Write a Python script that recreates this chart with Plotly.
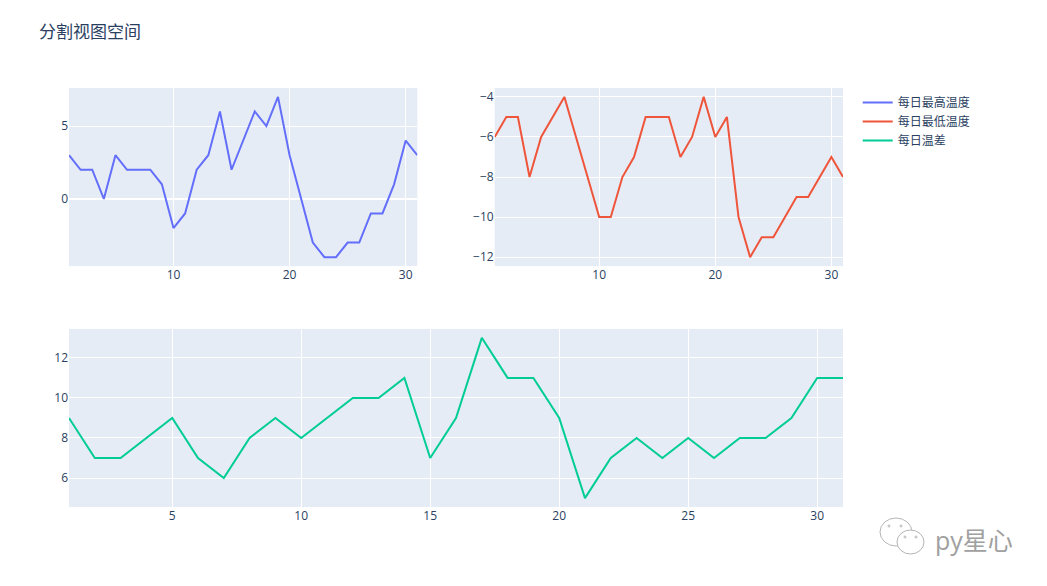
"""
Split-view line chart of daily temperatures
"""

import plotly.graph_objects as go
from plotly.subplots import make_subplots

# Day of the month
days = list(range(1, 32))

# Daily readings
high_temp = [3, 2, 2, 0, 3, 2, 2, 2, 1, -2, -1, 2, 3, 6, 2, 4, 6, 5, 7, 3, 0, -3, -4, -4, -3, -3, -1, -1, 1, 4, 3]
low_temp = [-6, -5, -5, -8, -6, -5, -4, -6, -8, -10, -10, -8, -7, -5, -5, -5, -7, -6, -4, -6, -5, -10, -12, -11, -11, -10, -9, -9, -8, -7, -8]
temp_diff = [9, 7, 7, 8, 9, 7, 6, 8, 9, 8, 9, 10, 10, 11, 7, 9, 13, 11, 11, 9, 5, 7, 8, 7, 8, 7, 8, 8, 9, 11, 11]

FONT = '"Open Sans", "Noto Sans CJK SC", sans-serif'

# The page body has an 8px margin, so the figure is 16px smaller than the window
PAGE_MARGIN = 8
WIDTH, HEIGHT = 1047 - 2 * PAGE_MARGIN, 586 - 2 * PAGE_MARGIN
LEFT, RIGHT, TOP, BOTTOM = 61, 196, 80, 71

fig = make_subplots(
    rows=2,
    cols=2,
    specs=[[{}, {}], [{"colspan": 2}, None]],
)

fig.add_trace(go.Scatter(x=days, y=high_temp, name="每日最高温度", mode="lines"), row=1, col=1)
fig.add_trace(go.Scatter(x=days, y=low_temp, name="每日最低温度", mode="lines"), row=1, col=2)
fig.add_trace(go.Scatter(x=days, y=temp_diff, name="每日温差", mode="lines"), row=2, col=1)

fig.update_layout(
    template="plotly",
    title=dict(
        text="分割视图空间",
        x=(39 - PAGE_MARGIN) / WIDTH,
        xanchor="left",
        y=1 - (32 - PAGE_MARGIN) / HEIGHT,
        yanchor="middle",
        font=dict(size=17),
    ),
    font=dict(family=FONT),
    width=WIDTH,
    height=HEIGHT,
    margin=dict(l=LEFT, r=RIGHT, t=TOP, b=BOTTOM),
    legend=dict(x=1.019, y=1.0, font=dict(size=12)),
)


# Watermark, placed in pixels from the window's top left corner
def px_x(value):
    return (value - PAGE_MARGIN - LEFT) / (WIDTH - LEFT - RIGHT)


def px_y(value):
    return (HEIGHT - BOTTOM - (value - PAGE_MARGIN)) / (HEIGHT - TOP - BOTTOM)


def add_bubble(x0, y0, x1, y1):
    fig.add_shape(
        type="circle", xref="paper", yref="paper",
        x0=px_x(x0), x1=px_x(x1), y0=px_y(y1), y1=px_y(y0),
        line=dict(color="#b5b5b5", width=1), fillcolor="white",
    )


add_bubble(880, 518, 912, 546)
add_bubble(897, 530, 924, 554)
for dot_x, dot_y in [(889, 526), (901, 526), (905, 537), (916, 537)]:
    add_bubble(dot_x - 1, dot_y - 1, dot_x + 1, dot_y + 1)

fig.add_annotation(
    text="py星心", xref="paper", yref="paper",
    x=px_x(933), y=px_y(540), xanchor="left", yanchor="middle",
    showarrow=False, font=dict(size=25, color="#a0a0a0"),
)

fig.write_html("out.html")
